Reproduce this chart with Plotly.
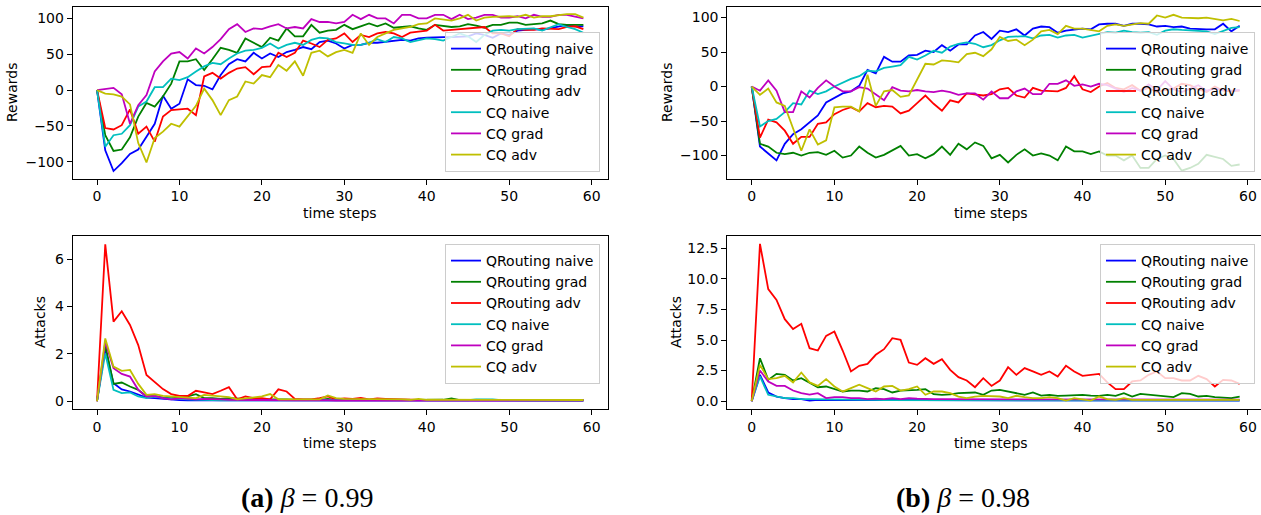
import plotly.graph_objects as go

steps = list(range(60))
names = ["QRouting naive", "QRouting grad", "QRouting adv", "CQ naive", "CQ grad", "CQ adv"]
colors = ["#0000ff", "#008000", "#ff0000", "#00bfbf", "#bf00bf", "#bfbf00"]

# ---- (a) beta = 0.99, rewards ----
a_rew_qr_naive = [0,-84,-113,-102,-89,-83,-65,-47,-8,-26, -19,15,7,6,1,21,36,43,40,52, 44,51,46,53,56,60,57,67,69,65,
                  58,63,63,66,66,67,68,70,69,72, 73,74,74,74,75,75,79,77,73,79, 77,83,84,85,84,86,88,91,89,89]
a_rew_qr_grad = [0,-63,-85,-83,-66,-37,-18,-23,-9,9, 40,40,43,28,43,59,56,52,72,66, 60,73,69,86,75,75,91,80,83,84,
                 91,85,89,93,89,93,87,88,89,86, 84,91,90,88,89,92,90,87,91,91, 94,94,91,92,93,97,92,91,91,91]
a_rew_qr_adv = [0,-53,-55,-49,-27,-61,-51,-72,-37,-28, -27,-26,-35,19,24,16,24,30,32,22, 32,33,52,46,52,69,65,60,70,72,
                79,67,77,74,79,81,79,74,80,81, 83,91,83,84,85,86,86,88,79,79, 75,85,84,84,86,86,85,88,89,85]
a_rew_cq_naive = [0,-79,-63,-61,-49,-23,-16,4,4,16, 14,18,26,33,38,36,44,51,55,56, 59,65,58,63,66,63,70,73,72,67,
                  65,63,63,66,71,67,74,72,67,70, 72,71,69,74,79,75,67,77,83,84, 83,85,86,86,83,88,92,88,85,80]
a_rew_cq_grad = [0,2,3,-6,-47,-21,-7,26,40,51, 53,44,58,51,60,71,85,92,81,86, 85,89,92,86,88,86,99,95,95,93,
                 95,105,99,105,100,100,93,105,105,100, 100,105,105,99,105,99,101,105,105,101, 101,103,100,105,102,102,105,105,103,100]
a_rew_cq_adv = [0,-5,-6,-9,-20,-74,-101,-67,-58,-47, -51,-37,-22,2,-14,-35,-14,-9,12,9, 21,18,35,27,40,20,52,55,47,53,
                56,52,79,63,74,79,84,86,88,92, 93,100,98,97,100,105,97,101,102,103, 103,102,105,101,103,103,105,106,106,101]

# ---- (b) beta = 0.98, rewards ----
b_rew_qr_naive = [0,-87,-97,-107,-83,-69,-62,-52,-42,-23, -16,-10,-7,1,24,19,43,36,36,45, 46,52,50,60,52,61,61,74,79,69,
                  81,79,83,74,84,87,86,78,81,83, 84,83,90,91,91,88,91,91,90,87, 88,86,87,84,83,83,83,91,80,88]
b_rew_qr_grad = [0,-83,-87,-96,-98,-96,-100,-96,-95,-99, -93,-103,-100,-87,-96,-103,-99,-92,-86,-100, -98,-104,-98,-87,-99,-83,-91,-81,-86,-104,
                 -99,-110,-99,-91,-100,-97,-100,-107,-87,-94, -94,-98,-94,-100,-100,-107,-100,-118,-118,-105, -100,-105,-122,-118,-112,-99,-102,-105,-115,-113]
b_rew_qr_adv = [0,-74,-48,-52,-64,-83,-73,-73,-54,-52, -40,-34,-30,-36,-24,-30,-28,-29,-39,-35, -24,-13,-25,-35,-20,-23,-10,-12,-13,-11,
                -4,-2,-13,-16,-2,-6,-7,-7,-2,15, -4,-8,0,5,-2,-4,2,-6,-2,-8, -5,-3,4,2,-4,-8,0,-6,-7,-6]
b_rew_cq_naive = [0,-58,-50,-47,-37,-24,-26,-6,-11,-7, 0,6,11,15,23,22,27,29,31,43, 39,45,52,49,58,62,64,62,57,60,
                  67,72,73,73,70,74,75,71,74,75, 71,74,76,79,78,81,79,78,79,75, 81,83,82,81,80,80,76,80,85,86]
b_rew_cq_grad = [0,-6,9,-6,-37,-37,-7,-16,-2,9, 0,-7,-7,-1,-3,-11,-20,-1,-6,-7, -5,-7,-8,-6,-8,-12,-10,-10,-19,-7,
                 -17,-17,-7,-3,-11,-11,4,4,9,1, 3,0,4,2,-3,-8,-2,-6,3,-5, 8,-4,-8,-3,2,-6,-3,-5,-6,-5]
b_rew_cq_adv = [0,-12,-3,-23,-28,-62,-93,-62,-84,-78, -30,-29,-29,-36,17,-28,-7,-5,-15,-13, 11,33,32,38,37,35,47,49,44,54,
                72,66,68,60,68,80,82,76,88,84, 84,82,80,88,90,88,90,92,91,103, 100,104,100,99,99,100,98,96,98,95]

# ---- (a) beta = 0.99, attacks ----
a_att_qr_naive = [0,2.23,0.76,0.5,0.41,0.27,0.15,0.13,0.1,0.06, 0.05,0.04,0.04,0.03,0.04,0.03,0.03,0.03,0.02,0.03,
                  0.03,0.02,0.03,0.02,0.02,0.03,0.02,0.02,0.03,0.02, 0.02,0.02,0.03,0.02,0.02,0.02,0.02,0.03,0.02,0.02,
                  0.02,0.02,0.02,0.02,0.03,0.02,0.02,0.02,0.02,0.02, 0.02,0.02,0.02,0.02,0.02,0.02,0.02,0.02,0.02,0.02]
a_att_qr_grad = [0,2.37,0.73,0.79,0.62,0.48,0.2,0.22,0.15,0.13, 0.15,0.2,0.3,0.13,0.13,0.1,0.13,0.1,0.1,0.08,
                 0.08,0.1,0.08,0.08,0.06,0.06,0.08,0.06,0.1,0.06, 0.06,0.05,0.06,0.05,0.06,0.05,0.05,0.05,0.05,0.05,
                 0.05,0.05,0.06,0.12,0.05,0.05,0.05,0.05,0.05,0.05, 0.04,0.05,0.04,0.04,0.05,0.04,0.04,0.05,0.04,0.04]
a_att_qr_adv = [0,6.63,3.36,3.8,3.22,2.37,1.11,0.79,0.51,0.3, 0.22,0.22,0.44,0.37,0.3,0.44,0.59,0.08,0.2,0.13,
                0.13,0.08,0.5,0.41,0.1,0.08,0.08,0.13,0.2,0.08, 0.12,0.1,0.14,0.08,0.12,0.1,0.08,0.08,0.06,0.05,
                0.05,0.05,0.06,0.05,0.06,0.05,0.05,0.05,0.05,0.04, 0.05,0.05,0.04,0.05,0.04,0.05,0.04,0.05,0.04,0.05]
a_att_cq_naive = [0,2.02,0.48,0.34,0.37,0.2,0.13,0.2,0.13,0.1, 0.1,0.08,0.06,0.06,0.05,0.04,0.05,0.04,0.04,0.04,
                  0.04,0.03,0.04,0.03,0.04,0.03,0.03,0.04,0.03,0.03, 0.03,0.03,0.03,0.03,0.03,0.03,0.03,0.03,0.03,0.03,
                  0.03,0.03,0.03,0.03,0.03,0.04,0.08,0.09,0.08,0.04, 0.03,0.03,0.03,0.03,0.03,0.03,0.03,0.03,0.03,0.03]
a_att_cq_grad = [0,2.5,1.39,1.15,1.04,0.48,0.2,0.22,0.13,0.08, 0.13,0.1,0.08,0.1,0.1,0.08,0.06,0.05,0.03,0.05,
                 0.05,0.04,0.04,0.05,0.04,0.04,0.05,0.04,0.04,0.03, 0.03,0.03,0.03,0.03,0.03,0.03,0.03,0.03,0.03,0.03,
                 0.03,0.03,0.03,0.03,0.03,0.03,0.03,0.03,0.03,0.03, 0.03,0.03,0.03,0.03,0.03,0.03,0.03,0.03,0.03,0.03]
a_att_cq_adv = [0,2.65,1.46,1.28,1.32,0.73,0.27,0.3,0.22,0.2, 0.17,0.15,0.13,0.27,0.24,0.2,0.17,0.08,0.13,0.15,
                0.2,0.3,0.08,0.08,0.08,0.08,0.11,0.08,0.24,0.13, 0.1,0.1,0.08,0.1,0.08,0.08,0.1,0.08,0.06,0.1,
                0.06,0.06,0.05,0.06,0.05,0.05,0.06,0.05,0.04,0.05, 0.05,0.05,0.04,0.05,0.05,0.04,0.05,0.04,0.05,0.05]

# ---- (b) beta = 0.98, attacks ----
b_att_qr_naive = [0,2.15,0.71,0.38,0.25,0.16,0.16,0.05,0.1,0.1, 0.08,0.06,0.06,0.05,0.06,0.05,0.05,0.06,0.05,0.05,
                  0.05,0.05,0.05,0.05,0.05,0.05,0.05,0.05,0.05,0.05, 0.05,0.05,0.05,0.05,0.05,0.05,0.05,0.05,0.05,0.05,
                  0.05,0.05,0.05,0.05,0.05,0.05,0.05,0.05,0.05,0.05, 0.05,0.05,0.05,0.05,0.05,0.05,0.05,0.05,0.05,0.05]
b_att_qr_grad = [0,3.51,1.74,2.23,2.15,1.69,1.88,1.53,1.14,1.2, 0.98,0.79,0.87,0.87,0.79,1.06,0.98,0.71,0.87,0.87,
                 0.93,0.98,0.57,0.52,0.55,0.65,0.71,0.71,0.52,0.87, 0.93,0.79,0.6,0.52,0.71,0.46,0.52,0.44,0.46,0.52,
                 0.52,0.46,0.44,0.52,0.44,0.65,0.38,0.6,0.52,0.46, 0.38,0.33,0.65,0.6,0.38,0.44,0.33,0.3,0.25,0.38]
b_att_qr_adv = [0,12.86,9.16,8.28,6.7,5.89,6.32,4.33,4.14,5.34, 5.69,4.14,2.43,2.89,3.05,3.79,4.25,5.15,5.01,3.16,
                2.97,3.51,3.05,3.43,2.56,1.96,1.69,1.14,1.88,1.25, 1.69,2.78,2.15,2.7,2.43,2.15,2.43,2.02,2.89,2.43,
                2.07,2.15,2.23,1.53,0.98,0.98,1.61,1.69,2.15,2.43, 1.88,1.88,1.69,1.69,2.07,1.8,1.2,1.74,1.69,1.42]
b_att_cq_naive = [0,2.02,0.52,0.38,0.25,0.25,0.16,0.16,0.16,0.16, 0.13,0.13,0.1,0.1,0.1,0.1,0.08,0.08,0.08,0.08,
                  0.08,0.08,0.06,0.06,0.06,0.06,0.06,0.06,0.06,0.06, 0.06,0.06,0.06,0.06,0.06,0.06,0.06,0.06,0.06,0.06,
                  0.06,0.06,0.06,0.06,0.06,0.06,0.06,0.06,0.06,0.06, 0.06,0.06,0.06,0.06,0.06,0.06,0.06,0.06,0.06,0.06]
b_att_cq_grad = [0,2.51,1.61,1.25,1.25,0.87,0.65,0.54,0.65,0.25, 0.33,0.33,0.25,0.25,0.16,0.2,0.16,0.25,0.16,0.25,
                 0.2,0.16,0.16,0.16,0.16,0.16,0.16,0.16,0.16,0.16, 0.14,0.14,0.15,0.14,0.14,0.14,0.15,0.14,0.14,0.14,
                 0.14,0.14,0.14,0.14,0.14,0.14,0.14,0.14,0.14,0.14, 0.13,0.13,0.13,0.13,0.13,0.13,0.13,0.13,0.13,0.13]
b_att_cq_adv = [0,2.97,1.8,1.88,2.07,1.53,2.34,1.53,1.25,1.8, 1.2,0.79,1.06,1.34,1.06,0.79,1.2,1.25,0.87,0.98,
                1.2,0.52,0.79,0.79,0.65,0.38,0.25,0.38,0.44,0.44, 0.38,0.25,0.44,0.33,0.25,0.25,0.33,0.25,0.05,0.25,
                0.16,0.05,0.38,0.16,0.1,0.25,0.1,0.1,0.1,0.1, 0.1,0.1,0.1,0.1,0.1,0.1,0.1,0.1,0.1,0.1]

panels = [
    ("x", "y", "legend", [a_rew_qr_naive, a_rew_qr_grad, a_rew_qr_adv, a_rew_cq_naive, a_rew_cq_grad, a_rew_cq_adv]),
    ("x2", "y2", "legend2", [b_rew_qr_naive, b_rew_qr_grad, b_rew_qr_adv, b_rew_cq_naive, b_rew_cq_grad, b_rew_cq_adv]),
    ("x3", "y3", "legend3", [a_att_qr_naive, a_att_qr_grad, a_att_qr_adv, a_att_cq_naive, a_att_cq_grad, a_att_cq_adv]),
    ("x4", "y4", "legend4", [b_att_qr_naive, b_att_qr_grad, b_att_qr_adv, b_att_cq_naive, b_att_cq_grad, b_att_cq_adv]),
]

W, H = 1261, 515
FONT = "DejaVu Sans"
FS = 14

fig = go.Figure()
for xa, ya, lg, series in panels:
    for name, col, vals in zip(names, colors, series):
        fig.add_trace(go.Scatter(x=steps, y=vals, mode="lines", name=name,
                                 line=dict(color=col, width=1.8),
                                 xaxis=xa, yaxis=ya, legend=lg))

def px_x(p):
    return p / W

def px_y(p):
    return 1 - p / H

axis_common = dict(showline=True, linecolor="black", linewidth=1, ticks="outside",
                   ticklen=5, tickwidth=1, tickcolor="black", showgrid=False, zeroline=False,
                   tickfont=dict(family=FONT, size=FS, color="black"))

left_dom = [px_x(72.7), px_x(607.7)]
right_dom = [px_x(727.3), 1.0]
top_dom = [px_y(178.5), px_y(7)]
bot_dom = [px_y(409), px_y(236)]

fig.update_layout(
    xaxis=dict(domain=left_dom, range=[-2.95, 61.95], dtick=10, tick0=0, anchor="y", mirror=True, **axis_common),
    yaxis=dict(domain=top_dom, range=[-123.4, 115.9], dtick=50, tick0=0, anchor="x", mirror=True, **axis_common),
    xaxis2=dict(domain=right_dom, range=[-2.95, 61.58], dtick=10, tick0=0, anchor="y2", mirror=True, **axis_common),
    yaxis2=dict(domain=top_dom, range=[-133.3, 115.3], dtick=50, tick0=0, anchor="x2", mirror=False, **axis_common),
    xaxis3=dict(domain=left_dom, range=[-2.95, 61.95], dtick=10, tick0=0, anchor="y3", mirror=True, **axis_common),
    yaxis3=dict(domain=bot_dom, range=[-0.33, 6.98], dtick=2, tick0=0, anchor="x3", mirror=True, **axis_common),
    xaxis4=dict(domain=right_dom, range=[-2.95, 61.58], dtick=10, tick0=0, anchor="y4", mirror=True, **axis_common),
    yaxis4=dict(domain=bot_dom, range=[-0.64, 13.5], dtick=2.5, tick0=0, tickformat=".1f", anchor="x4", mirror=False, **axis_common),
)

legend_common = dict(bgcolor="rgba(255,255,255,0.8)", bordercolor="#cccccc", borderwidth=1,
                     font=dict(family=FONT, size=FS, color="black"), xanchor="right",
                     itemwidth=30, tracegroupgap=0)
fig.update_layout(
    legend=dict(x=px_x(600), y=px_y(172), yanchor="bottom", **legend_common),
    legend2=dict(x=px_x(1255), y=px_y(172), yanchor="bottom", **legend_common),
    legend3=dict(x=px_x(600), y=px_y(244), yanchor="top", **legend_common),
    legend4=dict(x=px_x(1255), y=px_y(244), yanchor="top", **legend_common),
)

annots = []
def label(text, x, y, angle=0, size=FS, family=FONT):
    annots.append(dict(text=text, x=px_x(x), y=px_y(y), xref="paper", yref="paper",
                       showarrow=False, textangle=angle, xanchor="center", yanchor="middle",
                       font=dict(family=family, size=size, color="black")))

label("Rewards", 12, 93, -90)
label("Rewards", 667, 93, -90)
label("Attacks", 40, 322, -90)
label("Attacks", 676, 322, -90)
label("time steps", 340, 213)
label("time steps", 991, 213)
label("time steps", 340, 443)
label("time steps", 991, 443)
label("<b>(a)</b> <i>β</i> = 0.99", 307, 497, size=28, family="Liberation Serif")
label("<b>(b)</b> <i>β</i> = 0.98", 963, 497, size=28, family="Liberation Serif")

fig.update_layout(
    width=W, height=H, margin=dict(l=0, r=0, t=0, b=0),
    paper_bgcolor="white", plot_bgcolor="white",
    annotations=annots, showlegend=True,
    font=dict(family=FONT, size=FS, color="black"),
)

fig.write_html("out.html")
